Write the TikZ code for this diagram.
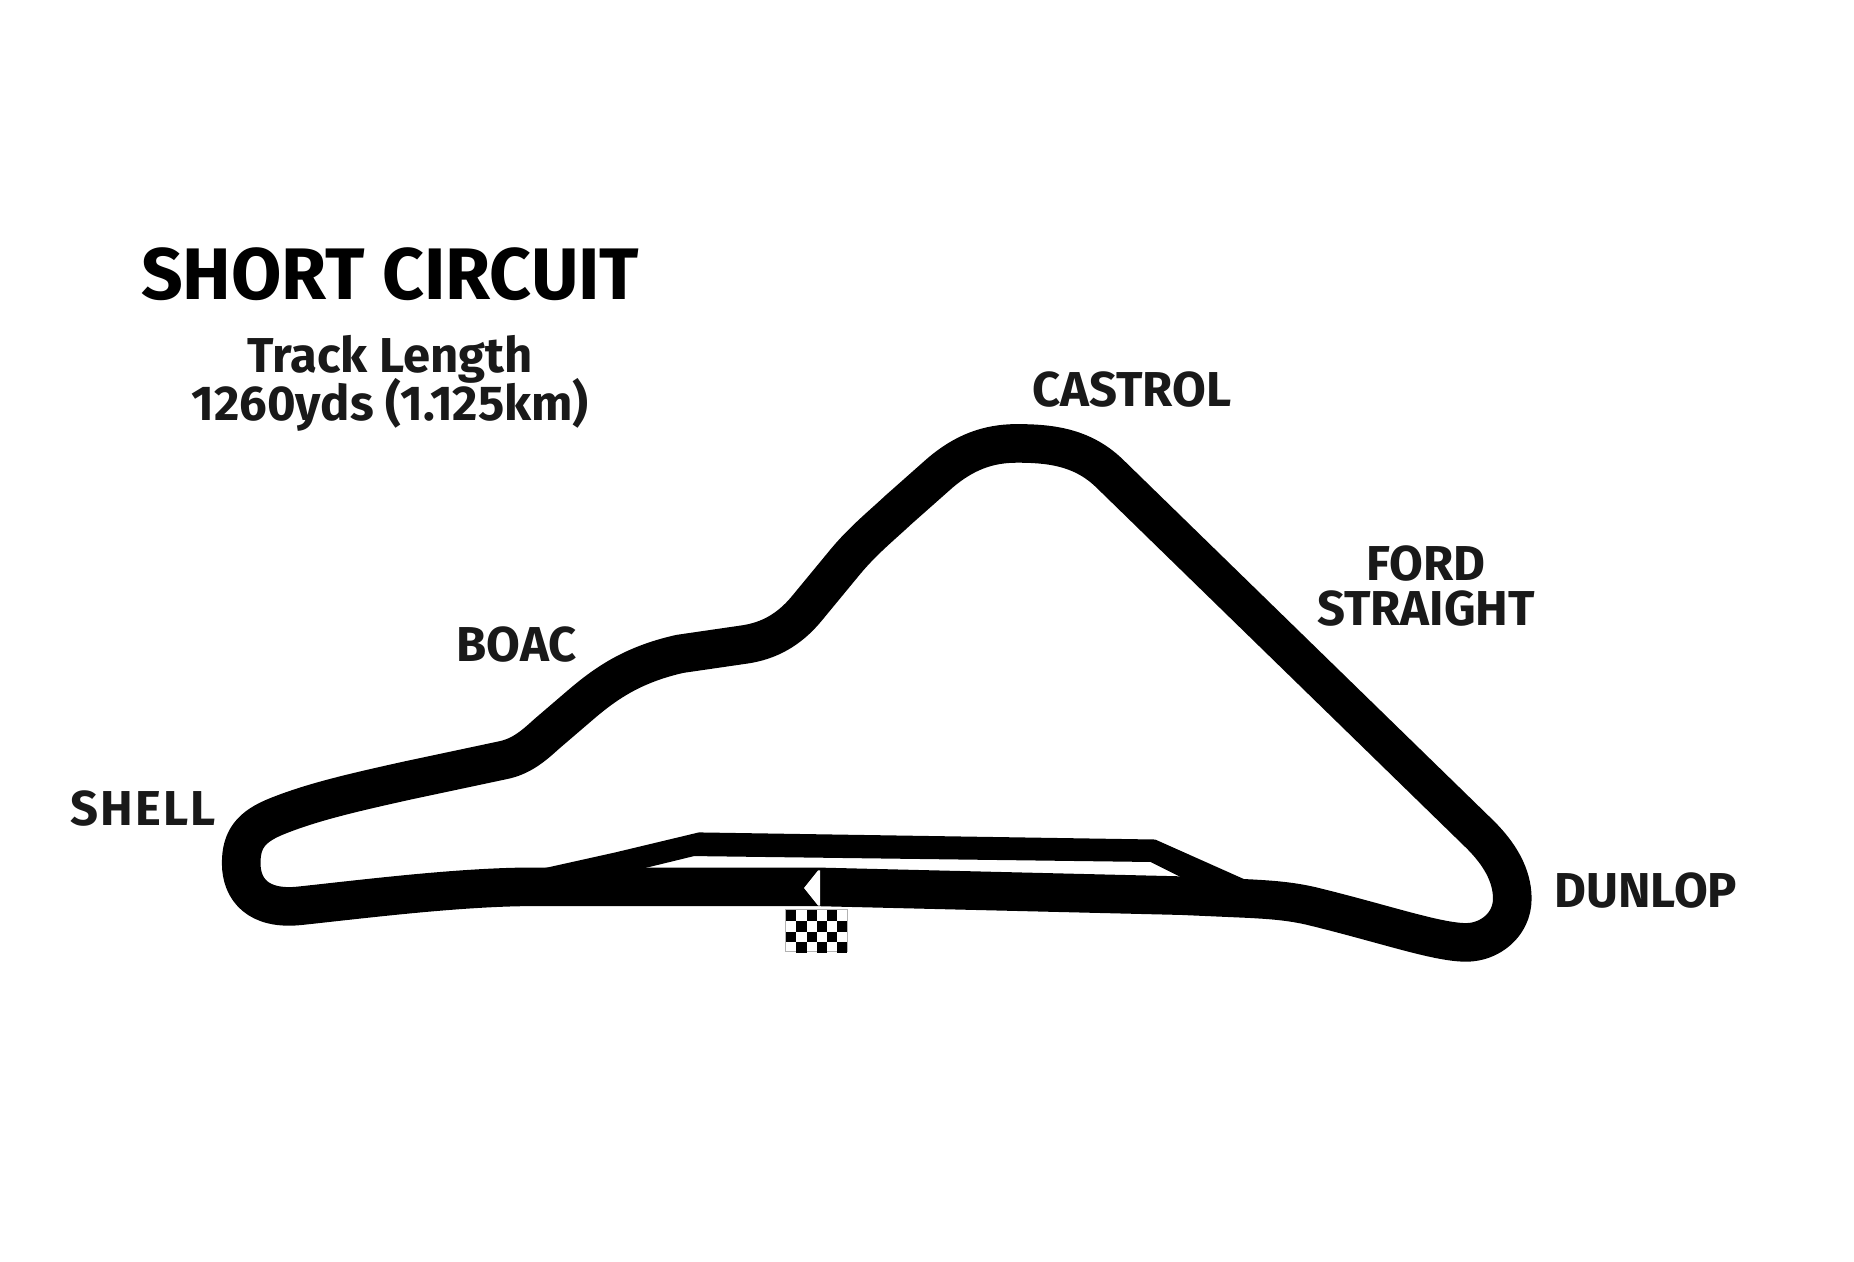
\documentclass[tikz,border=0pt]{standalone}
\usepackage{fontspec}
\setmainfont{Fira Sans}
\begin{document}
\begin{tikzpicture}[x=0.5912pt,y=-0.5912pt,
  track/.style={draw=black,line width=19.3pt,line join=round},
  lbl/.style={font=\bfseries\fontsize{24.5}{22.5}\selectfont,text=black!90,align=center,inner sep=0pt}]
\useasboundingbox (0,0) rectangle (1568,1067);
\fill[white] (0,0) rectangle (1568,1067);
% main circuit
\draw[track] (1057,760) -- (1000,757.5) -- (690,750) -- (451,750)
 .. controls (390,750) and (310,760) .. (254,766)
 .. controls (218,770) and (204,752) .. (204,730)
 .. controls (204,710) and (212,699) .. (235,690)
 .. controls (265,678) and (300,670) .. (345,660)
 -- (425,643) .. controls (440,640) and (450,632) .. (462,621)
 -- (490,597) .. controls (512,578) and (535,562) .. (575,553)
 -- (630,545) .. controls (650,542) and (667,533) .. (682,515)
 -- (715,475) .. controls (730,457) and (745,445) .. (760,431)
 -- (795,400) .. controls (815,383) and (835,375) .. (860,375)
 .. controls (888,375) and (915,378) .. (938,400)
 -- (1252,706) .. controls (1268,722) and (1279,740) .. (1279,760)
 .. controls (1279,782) and (1260,797) .. (1240,797)
 .. controls (1215,797) and (1170,781) .. (1108,766)
 .. controls (1090,762) and (1075,761) .. cycle;
% short-cut branch
\fill[black] (457,735) -- (520,721) -- (591,704) -- (977,710) -- (1060,747) -- (1060,760) -- (1000,752)
 -- (1001,743) -- (973,729) -- (587,724) -- (546,734) -- (500,745) -- cycle;
% start line
\fill[white] (680,751) -- (692,736) -- (693.5,736) -- (693.5,766) -- (692,766) -- cycle;
% chequered flag
\fill[white,draw=black!30,line width=0.4pt] (664,769) rectangle (717,805);
\foreach \r in {0,1,2,3}{\foreach \c in {0,...,5}{
 \pgfmathparse{int(mod(\r+\c,2))}
 \ifnum\pgfmathresult=0
 \fill[black] ({665+\c*8.6},{770+\r*9}) rectangle ++(8.6,9);
 \fi}}
% labels
\node[font=\bfseries\fontsize{36.5}{37}\selectfont,inner sep=0pt] (title) at (330,232) {SHORT CIRCUIT};
\node[lbl,font=\bfseries\fontsize{24.5}{23.5}\selectfont] (info) at (330,324) {Track Length\\[-3.5pt]1260yds (1.125km)};
\node[lbl] (castrol) at (957,329) {CASTROL};
\node[lbl] (ford) at (1206,496) {FORD\\STRAIGHT};
\node[lbl] (boac) at (437,545) {BOAC};
\node[lbl] (shell) at (121,684) {\addfontfeature{LetterSpace=4}SHELL};
\node[lbl] (dunlop) at (1392,753) {DUNLOP};
\end{tikzpicture}
\end{document}
